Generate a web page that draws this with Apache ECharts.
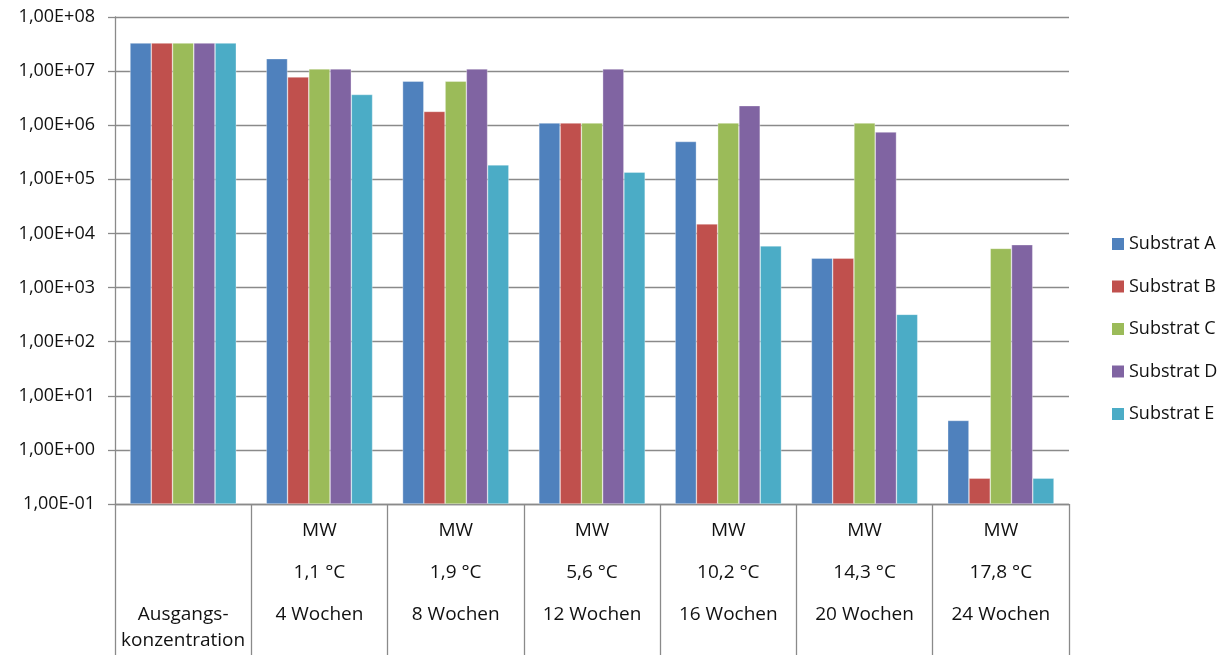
<!DOCTYPE html>
<html>
<head>
<meta charset="utf-8">
<script src="https://cdn.jsdelivr.net/npm/echarts@6/dist/echarts.min.js"></script>
<style>
  html, body { margin: 0; padding: 0; background: #fff; }
  #chart { width: 1221px; height: 655px; }
</style>
</head>
<body>
<div id="chart"></div>
<script>
// Category labels (lines separated by \n)
const categories = [
  'Ausgangs-\nkonzentration',
  'MW\n1,1 °C\n4 Wochen',
  'MW\n1,9 °C\n8 Wochen',
  'MW\n5,6 °C\n12 Wochen',
  'MW\n10,2 °C\n16 Wochen',
  'MW\n14,3 °C\n20 Wochen',
  'MW\n17,8 °C\n24 Wochen'
];

const seriesNames = ['Substrat A', 'Substrat B', 'Substrat C', 'Substrat D', 'Substrat E'];

const substratA = [3.3e7, 1.7e7, 6.5e6, 1.1e6, 5.0e5, 3.5e3, 3.5];
const substratB = [3.3e7, 7.8e6, 1.8e6, 1.1e6, 1.5e4, 3.5e3, 0.3];
const substratC = [3.3e7, 1.1e7, 6.5e6, 1.1e6, 1.1e6, 1.1e6, 5.3e3];
const substratD = [3.3e7, 1.1e7, 1.1e7, 1.1e7, 2.3e6, 7.5e5, 6.2e3];
const substratE = [3.3e7, 3.7e6, 1.85e5, 1.36e5, 5.9e3, 3.2e2, 0.3];

const seriesValues = [substratA, substratB, substratC, substratD, substratE];
const colors = ['#4F81BD', '#C0504D', '#9BBB59', '#8064A2', '#4BACC6'];

const yMin = 0.1;
const yMax = 1e8;

const gridColor = '#8a8a8a';
const fontFamily = '"Open Sans", "Noto Sans", sans-serif';

function sciLabel(v) {
  const e = Math.round(Math.log10(v));
  const sign = e < 0 ? '-' : '+';
  return '1,00E' + sign + String(Math.abs(e)).padStart(2, '0');
}

function categoryLabel(text) {
  const lines = text.split('\n');
  if (lines.length === 3) {
    return lines.map(l => '{r|' + l + '}').join('\n');
  }
  return '{p1| }\n{p2| }\n' + lines.map(l => '{t|' + l + '}').join('\n');
}

// On a log axis ECharts grows bars from 1; each substrate is stacked on an
// invisible base bar at the axis minimum so the columns rise from 1,00E-01.
const series = [];
seriesNames.forEach((name, i) => {
  const stack = 'stack' + i;
  series.push({
    name: 'base' + i,
    type: 'bar',
    stack,
    silent: true,
    barGap: '0%',
    barCategoryGap: '22%',
    data: categories.map(() => yMin),
    itemStyle: { color: 'rgba(0,0,0,0)', borderWidth: 0 }
  });
  series.push({
    name,
    type: 'bar',
    stack,
    barGap: '0%',
    barCategoryGap: '22%',
    data: seriesValues[i].map(v => v - yMin),
    itemStyle: { color: colors[i], borderColor: 'rgba(255,255,255,0.55)', borderWidth: 0.6 }
  });
});

const chart = echarts.init(document.getElementById('chart'), null, { renderer: 'canvas' });

chart.setOption({
  animation: false,
  backgroundColor: '#ffffff',
  grid: { left: 115, right: 152, top: 17, bottom: 151, containLabel: false },
  legend: {
    orient: 'vertical',
    left: 1112,
    top: 234,
    padding: 0,
    itemWidth: 12,
    itemHeight: 12,
    itemGap: 22.5,
    icon: 'rect',
    textStyle: { fontFamily, fontSize: 18, color: '#111', lineHeight: 20 },
    data: seriesNames.map((n, i) => ({ name: n, itemStyle: { color: colors[i], borderWidth: 0 } }))
  },
  xAxis: {
    type: 'category',
    data: categories,
    axisLine: { show: true, lineStyle: { color: gridColor, width: 1.3 } },
    axisTick: { show: true, interval: 0, length: 151, lineStyle: { color: gridColor, width: 1.3 } },
    axisLabel: {
      interval: 0,
      margin: 6,
      color: '#111',
      fontFamily,
      fontSize: 19,
      formatter: categoryLabel,
      rich: {
        r: { fontFamily, fontSize: 19, lineHeight: 42, color: '#111' },
        p1: { fontFamily, fontSize: 19, lineHeight: 42 },
        p2: { fontFamily, fontSize: 19, lineHeight: 50 },
        t: { fontFamily, fontSize: 19, lineHeight: 26, color: '#111' }
      }
    }
  },
  yAxis: {
    type: 'log',
    logBase: 10,
    min: yMin,
    max: yMax,
    splitNumber: 9,
    axisLine: { show: true, lineStyle: { color: gridColor, width: 1.3 } },
    axisTick: { show: true, length: 7, lineStyle: { color: gridColor, width: 1.3 } },
    splitLine: { show: true, lineStyle: { color: gridColor, width: 1.3 } },
    axisLabel: {
      margin: 20,
      color: '#111',
      fontFamily,
      fontSize: 18,
      formatter: sciLabel
    }
  },
  series
});
</script>
</body>
</html>
